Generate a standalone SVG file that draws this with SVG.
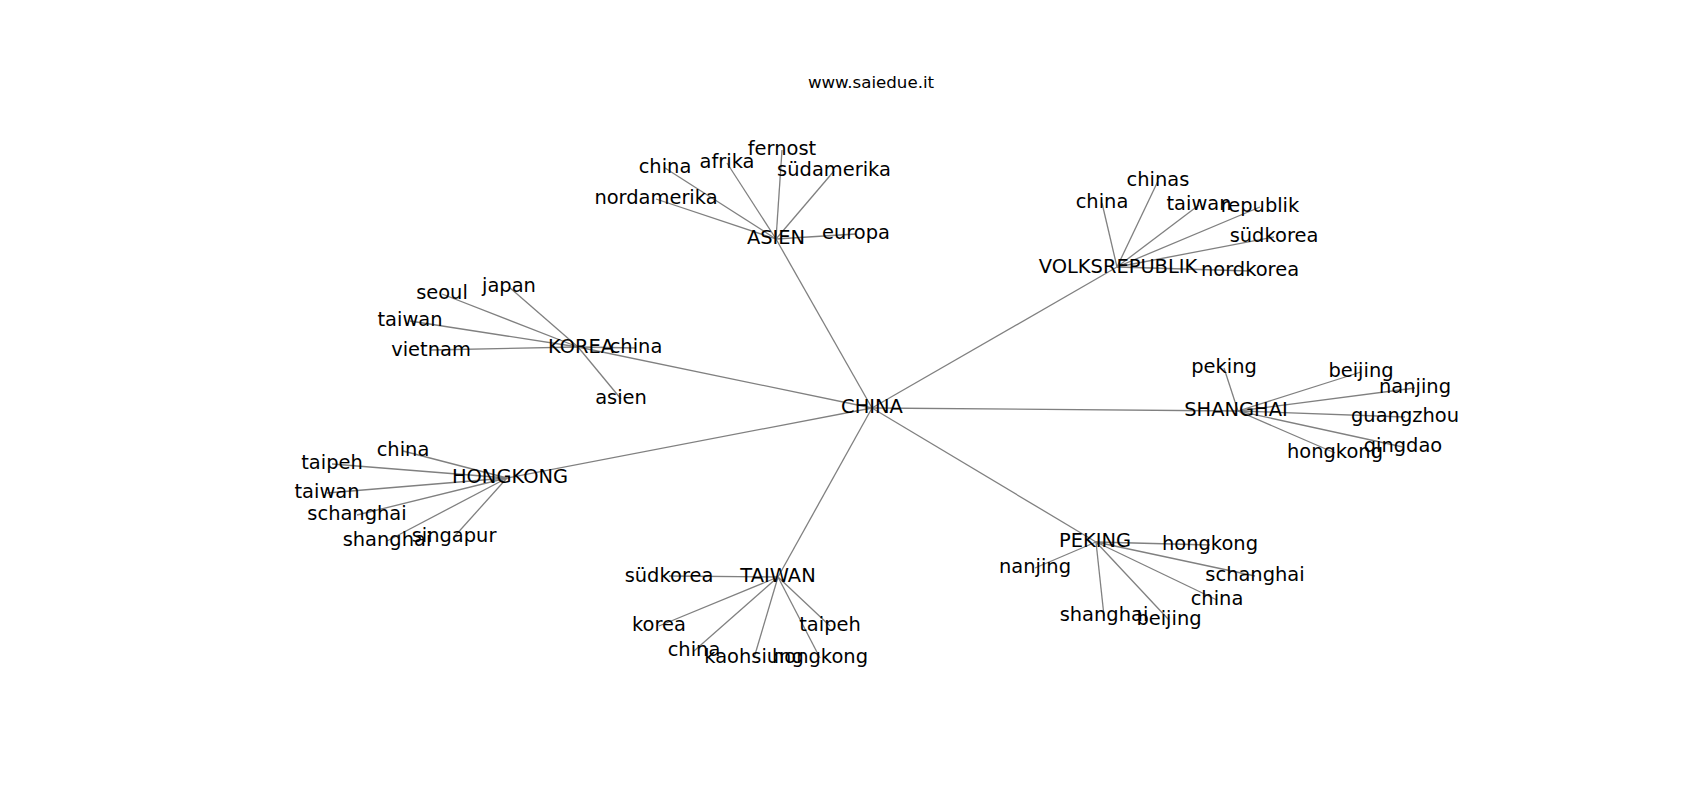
<svg xmlns="http://www.w3.org/2000/svg" width="1700" height="800" viewBox="0 0 1700 800">
<style>
  .e { stroke: #808080; stroke-width: 1.3; fill: none; }
  .n { font-family: "DejaVu Sans", "Liberation Sans", sans-serif; font-size: 19.44px; fill: #000; text-anchor: middle; }
  .t { font-family: "DejaVu Sans", "Liberation Sans", sans-serif; font-size: 16.67px; fill: #000; text-anchor: middle; }
</style>
<rect width="1700" height="800" fill="#fff"/>
<text class="t" x="871" y="88">www.saiedue.it</text>
<g id="edges">
  <line class="e" x1="872" y1="408" x2="776" y2="239"/>
  <line class="e" x1="872" y1="408" x2="1117" y2="267"/>
  <line class="e" x1="872" y1="408" x2="1238" y2="411"/>
  <line class="e" x1="872" y1="408" x2="1096" y2="542"/>
  <line class="e" x1="872" y1="408" x2="778" y2="577"/>
  <line class="e" x1="872" y1="408" x2="507" y2="478"/>
  <line class="e" x1="872" y1="408" x2="578" y2="347"/>
  <!-- ASIEN -->
  <line class="e" x1="776" y1="239" x2="665" y2="168"/>
  <line class="e" x1="776" y1="239" x2="727" y2="163"/>
  <line class="e" x1="776" y1="239" x2="782" y2="150"/>
  <line class="e" x1="776" y1="239" x2="834" y2="171"/>
  <line class="e" x1="776" y1="239" x2="656" y2="199"/>
  <line class="e" x1="776" y1="239" x2="856" y2="234"/>
  <!-- VOLKSREPUBLIK -->
  <line class="e" x1="1117" y1="267" x2="1102" y2="203"/>
  <line class="e" x1="1117" y1="267" x2="1158" y2="181"/>
  <line class="e" x1="1117" y1="267" x2="1199" y2="205"/>
  <line class="e" x1="1117" y1="267" x2="1260" y2="207"/>
  <line class="e" x1="1117" y1="267" x2="1274" y2="237"/>
  <line class="e" x1="1117" y1="267" x2="1250" y2="271"/>
  <!-- SHANGHAI -->
  <line class="e" x1="1238" y1="411" x2="1224" y2="368"/>
  <line class="e" x1="1238" y1="411" x2="1361" y2="372"/>
  <line class="e" x1="1238" y1="411" x2="1415" y2="388"/>
  <line class="e" x1="1238" y1="411" x2="1405" y2="417"/>
  <line class="e" x1="1238" y1="411" x2="1403" y2="447"/>
  <line class="e" x1="1238" y1="411" x2="1335" y2="453"/>
  <!-- KOREA -->
  <line class="e" x1="578" y1="347" x2="636" y2="348"/>
  <line class="e" x1="578" y1="347" x2="509" y2="287"/>
  <line class="e" x1="578" y1="347" x2="442" y2="294"/>
  <line class="e" x1="578" y1="347" x2="410" y2="321"/>
  <line class="e" x1="578" y1="347" x2="431" y2="350"/>
  <line class="e" x1="578" y1="347" x2="621" y2="399"/>
  <!-- HONGKONG -->
  <line class="e" x1="507" y1="478" x2="403" y2="451"/>
  <line class="e" x1="507" y1="478" x2="332" y2="464"/>
  <line class="e" x1="507" y1="478" x2="327" y2="493"/>
  <line class="e" x1="507" y1="478" x2="357" y2="515"/>
  <line class="e" x1="507" y1="478" x2="387" y2="541"/>
  <line class="e" x1="507" y1="478" x2="454" y2="537"/>
  <!-- TAIWAN -->
  <line class="e" x1="778" y1="577" x2="669" y2="576"/>
  <line class="e" x1="778" y1="577" x2="659" y2="626"/>
  <line class="e" x1="778" y1="577" x2="694" y2="651"/>
  <line class="e" x1="778" y1="577" x2="754" y2="658"/>
  <line class="e" x1="778" y1="577" x2="820" y2="658"/>
  <line class="e" x1="778" y1="577" x2="830" y2="626"/>
  <!-- PEKING -->
  <line class="e" x1="1096" y1="542" x2="1210" y2="545"/>
  <line class="e" x1="1096" y1="542" x2="1035" y2="568"/>
  <line class="e" x1="1096" y1="542" x2="1255" y2="576"/>
  <line class="e" x1="1096" y1="542" x2="1217" y2="600"/>
  <line class="e" x1="1096" y1="542" x2="1104" y2="616"/>
  <line class="e" x1="1096" y1="542" x2="1169" y2="620"/>
</g>
<g id="CHINA"><text class="n" x="872" y="413">CHINA</text></g>
<g id="ASIEN"><text class="n" x="776" y="244">ASIEN</text></g>
<g id="asien-china"><text class="n" x="665" y="173">china</text></g>
<g id="asien-afrika"><text class="n" x="727" y="168">afrika</text></g>
<g id="asien-fernost"><text class="n" x="782" y="155">fernost</text></g>
<g id="asien-suedamerika"><text class="n" x="834" y="176">südamerika</text></g>
<g id="asien-nordamerika"><text class="n" x="656" y="204">nordamerika</text></g>
<g id="asien-europa"><text class="n" x="856" y="239">europa</text></g>
<g id="VOLKSREPUBLIK"><text class="n" x="1118" y="273">VOLKSREPUBLIK</text></g>
<g id="vr-china"><text class="n" x="1102" y="208">china</text></g>
<g id="vr-chinas"><text class="n" x="1158" y="186">chinas</text></g>
<g id="vr-taiwan"><text class="n" x="1199" y="210">taiwan</text></g>
<g id="vr-republik"><text class="n" x="1260" y="212">republik</text></g>
<g id="vr-suedkorea"><text class="n" x="1274" y="242">südkorea</text></g>
<g id="vr-nordkorea"><text class="n" x="1250" y="276">nordkorea</text></g>
<g id="SHANGHAI"><text class="n" x="1236" y="416">SHANGHAI</text></g>
<g id="sh-peking"><text class="n" x="1224" y="373">peking</text></g>
<g id="sh-beijing"><text class="n" x="1361" y="377">beijing</text></g>
<g id="sh-nanjing"><text class="n" x="1415" y="393">nanjing</text></g>
<g id="sh-guangzhou"><text class="n" x="1405" y="422">guangzhou</text></g>
<g id="sh-qingdao"><text class="n" x="1403" y="452">qingdao</text></g>
<g id="sh-hongkong"><text class="n" x="1335" y="458">hongkong</text></g>
<g id="KOREA"><text class="n" x="581" y="353">KOREA</text></g>
<g id="ko-china"><text class="n" x="636" y="353">china</text></g>
<g id="ko-japan"><text class="n" x="509" y="292">japan</text></g>
<g id="ko-seoul"><text class="n" x="442" y="299">seoul</text></g>
<g id="ko-taiwan"><text class="n" x="410" y="326">taiwan</text></g>
<g id="ko-vietnam"><text class="n" x="431" y="356">vietnam</text></g>
<g id="ko-asien"><text class="n" x="621" y="404">asien</text></g>
<g id="HONGKONG"><text class="n" x="510" y="483">HONGKONG</text></g>
<g id="hk-china"><text class="n" x="403" y="456">china</text></g>
<g id="hk-taipeh"><text class="n" x="332" y="469">taipeh</text></g>
<g id="hk-taiwan"><text class="n" x="327" y="498">taiwan</text></g>
<g id="hk-schanghai"><text class="n" x="357" y="520">schanghai</text></g>
<g id="hk-shanghai"><text class="n" x="387" y="546">shanghai</text></g>
<g id="hk-singapur"><text class="n" x="454" y="542">singapur</text></g>
<g id="TAIWAN"><text class="n" x="778" y="582">TAIWAN</text></g>
<g id="tw-suedkorea"><text class="n" x="669" y="582">südkorea</text></g>
<g id="tw-korea"><text class="n" x="659" y="631">korea</text></g>
<g id="tw-china"><text class="n" x="694" y="656">china</text></g>
<g id="tw-kaohsiung"><text class="n" x="754" y="663">kaohsiung</text></g>
<g id="tw-hongkong"><text class="n" x="820" y="663">hongkong</text></g>
<g id="tw-taipeh"><text class="n" x="830" y="631">taipeh</text></g>
<g id="PEKING"><text class="n" x="1095" y="547">PEKING</text></g>
<g id="pk-hongkong"><text class="n" x="1210" y="550">hongkong</text></g>
<g id="pk-nanjing"><text class="n" x="1035" y="573">nanjing</text></g>
<g id="pk-schanghai"><text class="n" x="1255" y="581">schanghai</text></g>
<g id="pk-china"><text class="n" x="1217" y="605">china</text></g>
<g id="pk-shanghai"><text class="n" x="1104" y="621">shanghai</text></g>
<g id="pk-beijing"><text class="n" x="1169" y="625">beijing</text></g>
</svg>
